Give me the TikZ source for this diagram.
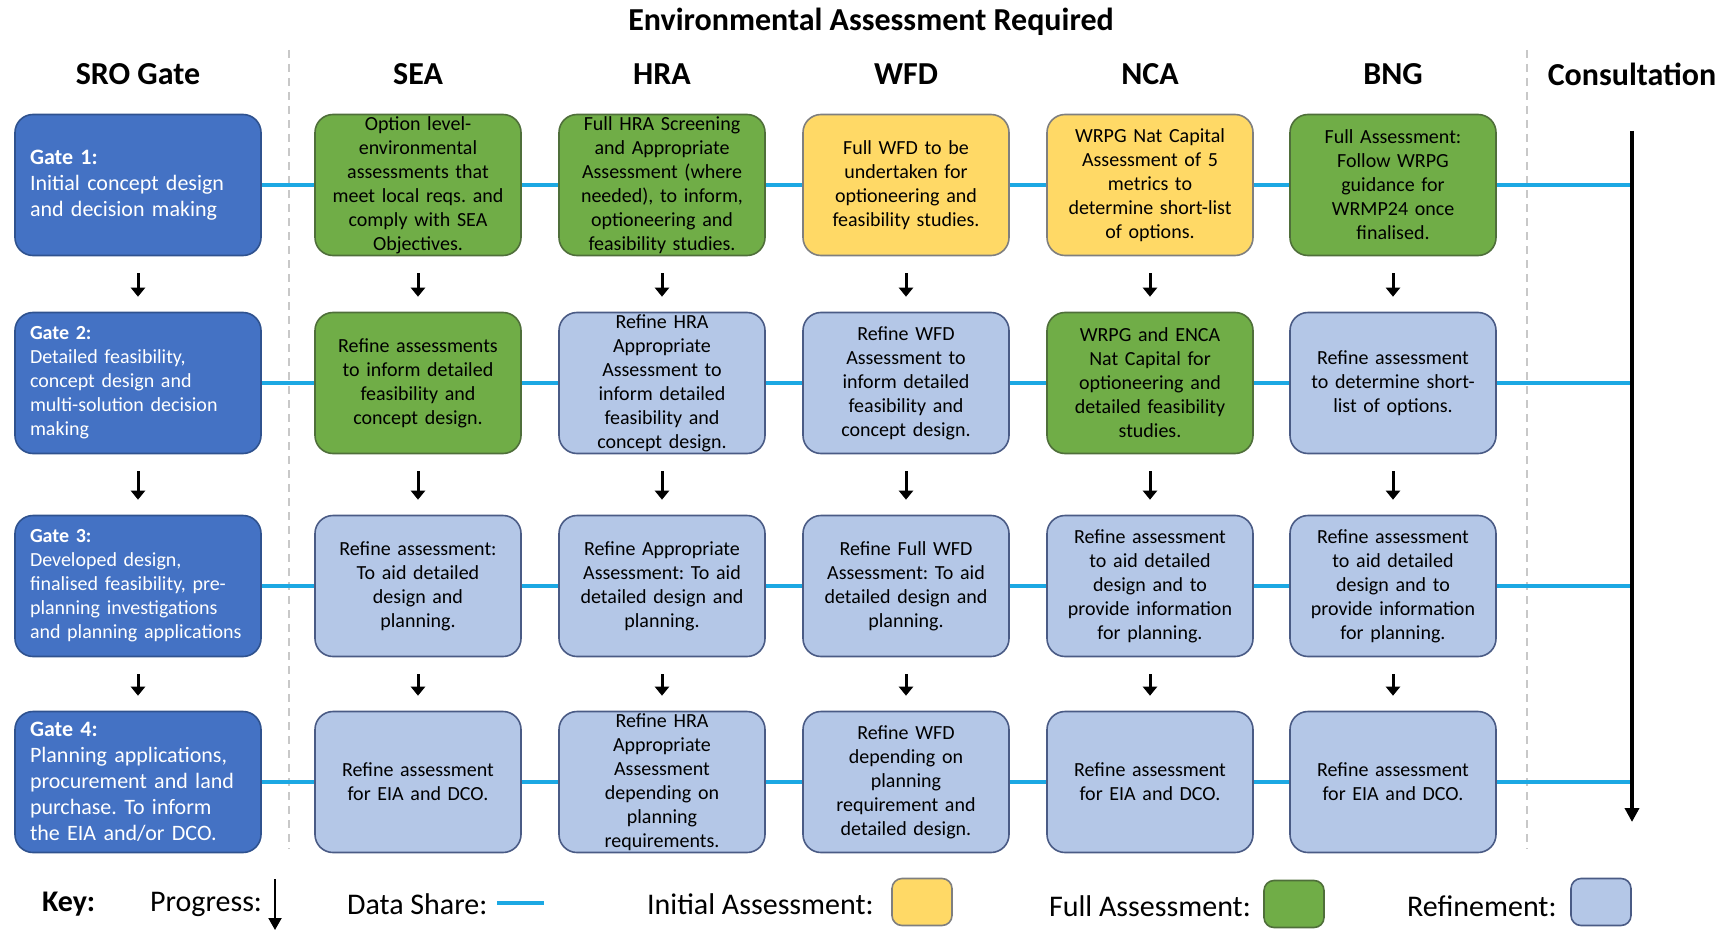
\documentclass[tikz,border=0pt]{standalone}
\usepackage{fontspec}
\setmainfont{Carlito}
\usepackage{tikz}
\usetikzlibrary{arrows.meta,positioning}
\frenchspacing
\hyphenpenalty=10000
\definecolor{GateBlue}{HTML}{4472C4}
\definecolor{GateEdge}{HTML}{2F528F}
\definecolor{Full}{HTML}{70AD47}
\definecolor{FullEdge}{HTML}{4F6F3A}
\definecolor{Initial}{HTML}{FFD966}
\definecolor{InitialEdge}{HTML}{7F7F7F}
\definecolor{Refine}{HTML}{B4C7E7}
\definecolor{RefineEdge}{HTML}{4A5B85}
\definecolor{Share}{HTML}{1CA8E3}
\definecolor{Divider}{HTML}{C8C8C8}
\tikzset{
  box/.style={draw,rounded corners=9pt,line width=0.8pt,minimum width=103pt,minimum height=70.5pt,
    text width=97pt,align=center,inner sep=0pt,font=\fontsize{10}{12}\selectfont},
  initial/.style={box,fill=Initial,draw=InitialEdge},
  full/.style={box,fill=Full,draw=FullEdge},
  refine/.style={box,fill=Refine,draw=RefineEdge},
  gate/.style={box,fill=GateBlue,draw=GateEdge,minimum width=123pt,text width=108pt,align=left,text=white},
  bigate/.style={gate,font=\fontsize{11}{13}\selectfont},
  heading/.style={font=\fontsize{16}{19}\selectfont\bfseries},
  keytext/.style={anchor=west,font=\fontsize{15}{18}\selectfont},
  keybox/.style={draw,rounded corners=5pt,line width=0.8pt,minimum width=30pt,minimum height=23.5pt},
  progress/.style={-{Triangle[length=4.5pt,width=7pt]},line width=1.5pt,shorten <=8.5pt,shorten >=7.5pt},
  share/.style={Share,line width=2pt},
  divider/.style={Divider,line width=1pt,dash pattern=on 4pt off 3pt}
}
\begin{document}
\begin{tikzpicture}[x=0.5pt,y=-0.5pt]
  \useasboundingbox (0,0) rectangle (1729,931);
  \draw[divider] (289,50) -- (289,849);
  \draw[divider] (1527,50) -- (1527,849);

  \node[heading] (title) at (871,22) {Environmental Assessment Required};
  \foreach \x/\t in {138/SRO Gate,418/SEA,662/HRA,906/WFD,1150/NCA,1393/BNG,1632/Consultation}
    \node[heading] at (\x,74) {\t};

  \node[bigate] (g1) at (138,185) {\textbf{Gate 1:}\\Initial concept design\\and decision making};
  \node[gate] (g2) at (138,383) {\textbf{Gate 2:}\\Detailed feasibility,\\concept design and\\multi-solution decision\\making};
  \node[gate] (g3) at (138,586) {\textbf{Gate 3:}\\Developed design,\\finalised feasibility, pre-\\planning investigations\\and planning applications};
  \node[bigate] (g4) at (138,782) {\textbf{Gate 4:}\\Planning applications,\\procurement and land\\purchase. To inform\\the EIA and/or DCO.};

  \node[full] (sea1) at (418,185) {Option level-\\environmental\\assessments that\\meet local reqs. and\\comply with SEA\\Objectives.};
  \node[full] (hra1) at (662,185) {Full HRA Screening\\and Appropriate\\Assessment (where\\needed), to inform,\\optioneering and\\feasibility studies.};
  \node[initial] (wfd1) at (906,185) {Full WFD to be\\undertaken for\\optioneering and\\feasibility studies.};
  \node[initial] (nca1) at (1150,185) {WRPG Nat Capital\\Assessment of 5\\metrics to\\determine short-list\\of options.};
  \node[full] (bng1) at (1393,185) {Full Assessment:\\Follow WRPG\\guidance for\\WRMP24 once\\finalised.};

  \node[full] (sea2) at (418,383) {Refine assessments\\to inform detailed\\feasibility and\\concept design.};
  \node[refine] (hra2) at (662,383) {Refine HRA\\Appropriate\\Assessment to\\inform detailed\\feasibility and\\concept design.};
  \node[refine] (wfd2) at (906,383) {Refine WFD\\Assessment to\\inform detailed\\feasibility and\\concept design.};
  \node[full] (nca2) at (1150,383) {WRPG and ENCA\\Nat Capital for\\optioneering and\\detailed feasibility\\studies.};
  \node[refine] (bng2) at (1393,383) {Refine assessment\\to determine short-\\list of options.};

  \node[refine] (sea3) at (418,586) {Refine assessment:\\To aid detailed\\design and\\planning.};
  \node[refine] (hra3) at (662,586) {Refine Appropriate\\Assessment: To aid\\detailed design and\\planning.};
  \node[refine] (wfd3) at (906,586) {Refine Full WFD\\Assessment: To aid\\detailed design and\\planning.};
  \node[refine] (nca3) at (1150,586) {Refine assessment\\to aid detailed\\design and to\\provide information\\for planning.};
  \node[refine] (bng3) at (1393,586) {Refine assessment\\to aid detailed\\design and to\\provide information\\for planning.};

  \node[refine] (sea4) at (418,782) {Refine assessment\\for EIA and DCO.};
  \node[refine] (hra4) at (662,782) {Refine HRA\\Appropriate\\Assessment\\depending on\\planning\\requirements.};
  \node[refine] (wfd4) at (906,782) {Refine WFD\\depending on\\planning\\requirement and\\detailed design.};
  \node[refine] (nca4) at (1150,782) {Refine assessment\\for EIA and DCO.};
  \node[refine] (bng4) at (1393,782) {Refine assessment\\for EIA and DCO.};

  \foreach \r/\y in {1/185,2/383,3/586,4/782}
    \coordinate (c\r) at (1632,\y);
  \foreach \r in {1,...,4}
    \draw[share] (g\r) -- (sea\r) -- (hra\r) -- (wfd\r) -- (nca\r) -- (bng\r) -- (c\r);
  \foreach \c in {g,sea,hra,wfd,nca,bng}
    \foreach \r/\s in {1/2,2/3,3/4}
      \draw[progress] (\c\r) -- (\c\s);
  \coordinate (ctop) at (1632,131);
  \coordinate (cend) at (1632,822);
  \draw[-{Triangle[length=7pt,width=7pt]},line width=2pt] (ctop) -- (cend);

  \node[keytext,font=\fontsize{15}{18}\selectfont\bfseries] (key) at (35,904) {Key:};
  \node[keytext] (kprog) at (143,904) {Progress:};
  \coordinate (kp1) at (275,879);
  \coordinate (kp2) at (275,930);
  \draw[-{Triangle[length=6pt,width=6.5pt]},line width=1pt] (kp1) -- (kp2);
  \node[keytext] (kshare) at (340,904) {Data Share:};
  \coordinate (ks1) at (497,903);
  \coordinate (ks2) at (544,903);
  \draw[share] (ks1) -- (ks2);
  \node[keytext] (kinit) at (640,904) {Initial Assessment:};
  \node[keybox,fill=Initial,draw=InitialEdge] (kinitbox) at (922,902) {};
  \node[keytext] (kfull) at (1042,906) {Full Assessment:};
  \node[keybox,fill=Full,draw=FullEdge] (kfullbox) at (1294,904) {};
  \node[keytext] (kref) at (1400,906) {Refinement:};
  \node[keybox,fill=Refine,draw=RefineEdge] (krefbox) at (1601,902) {};
\end{tikzpicture}
\end{document}
